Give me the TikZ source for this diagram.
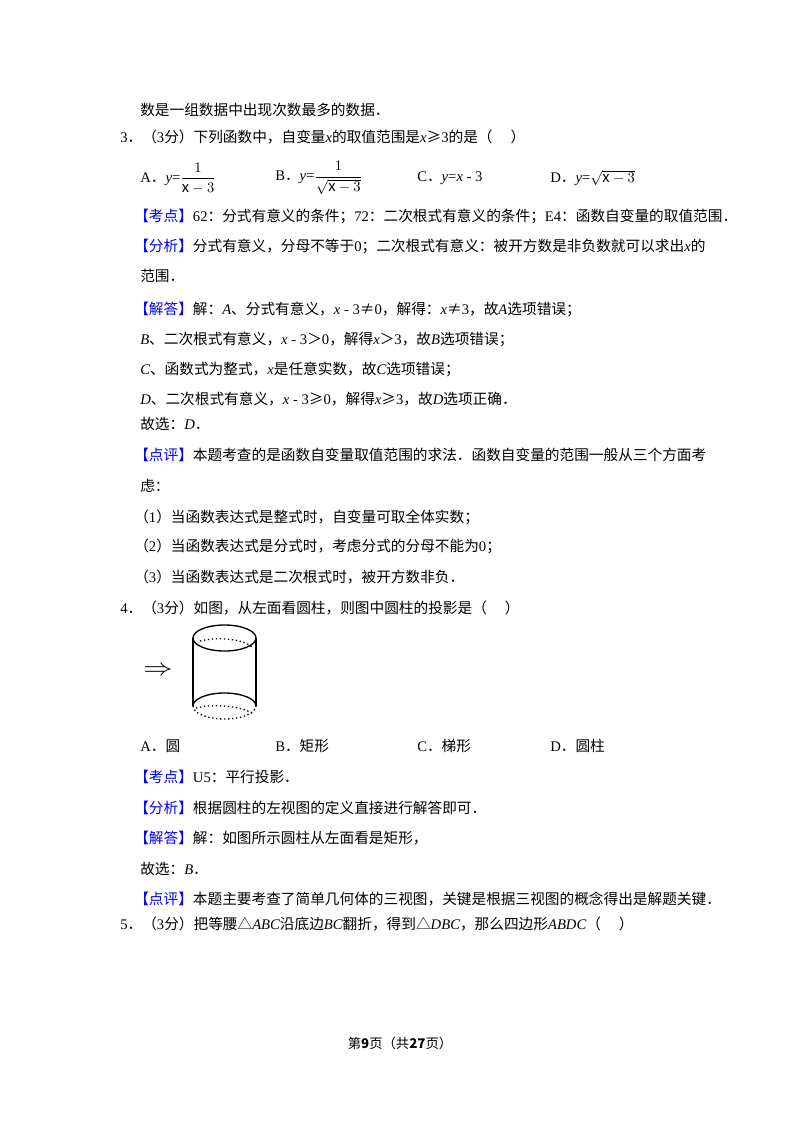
\documentclass[tikz,border=0pt]{standalone}
\usepackage{amsmath}
\usepackage{fontspec}
\setmainfont{Noto Sans CJK SC}
\newfontfamily\lat{Liberation Serif}
\newcommand{\vx}[1]{{\lat\itshape #1}}
\newcommand{\nm}[1]{{\lat #1}}
\begin{document}
\begin{tikzpicture}[x=0.75pt,y=-0.75pt,
  t/.style={anchor=west,inner sep=0pt,font=\fontsize{11}{13}\selectfont}]
\useasboundingbox (0,0) rectangle (800,1132);
\newcommand{\kk}[1]{\textcolor{blue}{【#1】}}
\newcommand{\yy}{\mbox{\vx{y}\nm{=}}}
\node[t] (l1) at (140,110) {数是一组数据中出现次数最多的数据．};
\node[t] (l2) at (120,137) {\nm{3}．（\nm{3}分）下列函数中，自变量\vx{x}的取值范围是\vx{x}≥\nm{3}的是（\quad\ ）};
\node[t] (oa) at (140,178) {\nm{A}．$\yy\dfrac{1}{\mathrm{x}-3}$};
\node[t] (ob) at (275,178) {\nm{B}．$\yy\dfrac{1}{\sqrt{\mathrm{x}-3}}$};
\node[t] (oc) at (417,178) {\nm{C}．\vx{y}\nm{=}\vx{x}\nm{ - 3}};
\node[t] (od) at (550,178) {\nm{D}．$\yy\sqrt{\mathrm{x}-3}$};
\node[t] (l4) at (134,216) {\kk{考点}\nm{62}：分式有意义的条件；\nm{72}：二次根式有意义的条件；\nm{E4}：函数自变量的取值范围．};
\node[t] (l5) at (134,246) {\kk{分析}分式有意义，分母不等于\nm{0}；二次根式有意义：被开方数是非负数就可以求出\vx{x}的};
\node[t] (l6) at (140,276) {范围．};
\node[t] (l7) at (134,309) {\kk{解答}解：\vx{A}、分式有意义，\vx{x}\nm{ - 3}≠\nm{0}，解得：\vx{x}≠\nm{3}，故\vx{A}选项错误；};
\node[t] (l8) at (140,339) {\vx{B}、二次根式有意义，\vx{x}\nm{ - 3}＞\nm{0}，解得\vx{x}＞\nm{3}，故\vx{B}选项错误；};
\node[t] (l9) at (140,369) {\vx{C}、函数式为整式，\vx{x}是任意实数，故\vx{C}选项错误；};
\node[t] (l10) at (140,399) {\vx{D}、二次根式有意义，\vx{x}\nm{ - 3}≥\nm{0}，解得\vx{x}≥\nm{3}，故\vx{D}选项正确．};
\node[t] (l11) at (140,424) {故选：\vx{D}．};
\node[t] (l12) at (134,455) {\kk{点评}本题考查的是函数自变量取值范围的求法．函数自变量的范围一般从三个方面考};
\node[t] (l13) at (140,486) {虑：};
\node[t] (l14) at (134,517) {（\nm{1}）当函数表达式是整式时，自变量可取全体实数；};
\node[t] (l15) at (134,546) {（\nm{2}）当函数表达式是分式时，考虑分式的分母不能为\nm{0}；};
\node[t] (l16) at (134,577) {（\nm{3}）当函数表达式是二次根式时，被开方数非负．};
\node[t] (l17) at (120,608) {\nm{4}．（\nm{3}分）如图，从左面看圆柱，则图中圆柱的投影是（\quad\ ）};
\node[inner sep=0pt,xscale=2.2,yscale=1.8] (arr) at (158,671) {$\Rightarrow$};
% cylinder
\draw[line width=1pt] (224.5,638) ellipse (31.5 and 13);
\draw[dotted,line width=1pt] (200,641) .. controls (220,636) and (245,640) .. (252,647);
\draw[line width=1pt] (193,638) -- (193,706) (256,638) -- (256,706);
\draw[line width=1pt] (193,706) arc (180:360:31.5 and 13);
\draw[dotted,line width=1pt] (193,706) arc (180:0:31.5 and 13);
\draw[dotted,line width=1pt] (196,708) .. controls (215,703) and (245,707) .. (253,714);
\node[t] (o4a) at (140,746) {\nm{A}．圆};
\node[t] (o4b) at (275,746) {\nm{B}．矩形};
\node[t] (o4c) at (417,746) {\nm{C}．梯形};
\node[t] (o4d) at (550,746) {\nm{D}．圆柱};
\node[t] (m1) at (134,777) {\kk{考点}\nm{U5}：平行投影．};
\node[t] (m2) at (134,808) {\kk{分析}根据圆柱的左视图的定义直接进行解答即可．};
\node[t] (m3) at (134,838) {\kk{解答}解：如图所示圆柱从左面看是矩形，};
\node[t] (m4) at (140,869) {故选：\vx{B}．};
\node[t] (m5) at (134,899) {\kk{点评}本题主要考查了简单几何体的三视图，关键是根据三视图的概念得出是解题关键．};
\node[t] (m6) at (120,924) {\nm{5}．（\nm{3}分）把等腰△\vx{ABC}沿底边\vx{BC}翻折，得到△\vx{DBC}，那么四边形\vx{ABDC}（\quad\ ）};
\node[inner sep=0pt,font=\fontsize{10}{12}\selectfont] (ft) at (400,1043) {第\textbf{9}页（共\textbf{27}页）};
\end{tikzpicture}
\end{document}
